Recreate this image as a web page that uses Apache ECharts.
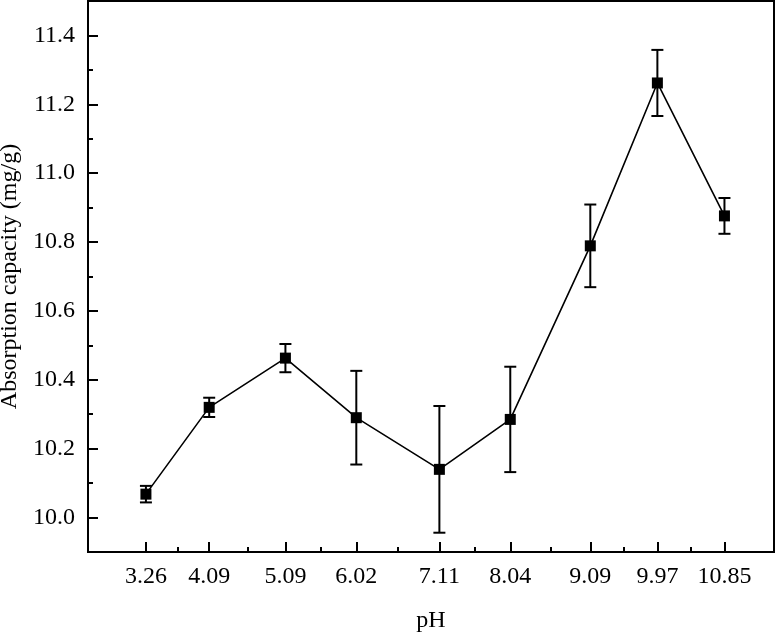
<!DOCTYPE html>
<html>
<head>
<meta charset="utf-8">
<script src="https://cdn.jsdelivr.net/npm/echarts@6/dist/echarts.min.js"></script>
<style>
  html, body { margin: 0; padding: 0; background: #fff; }
  #chart { width: 776px; height: 635px; }
</style>
</head>
<body>
<div id="chart"></div>
<script>
// 数据
const phValues = [3.26, 4.09, 5.09, 6.02, 7.11, 8.04, 9.09, 9.97, 10.85];
const capacity = [10.068, 10.320, 10.463, 10.290, 10.140, 10.285, 10.789, 11.262, 10.876];
const errors = [0.024, 0.028, 0.041, 0.136, 0.184, 0.153, 0.120, 0.096, 0.052];

// 刻度
const yTicks = [10.0, 10.2, 10.4, 10.6, 10.8, 11.0, 11.2, 11.4];
const yMinorTicks = [10.1, 10.3, 10.5, 10.7, 10.9, 11.1, 11.3];
const xMinorTicks = [3.675, 4.59, 5.555, 6.565, 7.575, 8.565, 9.53, 10.41];

const FONT = "'Liberation Serif', 'Times New Roman', serif";

const chart = echarts.init(document.getElementById('chart'));

const points = phValues.map((x, i) => [x, capacity[i]]);
const errData = phValues.map((x, i) => [x, capacity[i] - errors[i], capacity[i] + errors[i]]);

const baseX = {
    type: 'value',
    min: 2.5,
    max: 11.5,
    position: 'bottom',
    splitLine: { show: false },
    axisLine: { lineStyle: { color: '#000', width: 2 } }
};
const baseY = {
    type: 'value',
    min: 9.9,
    max: 11.5,
    position: 'left',
    splitLine: { show: false },
    axisLine: { lineStyle: { color: '#000', width: 2 } }
};

const option = {
    animation: false,
    backgroundColor: '#fff',
    textStyle: { fontFamily: FONT },
    grid: {
        left: 88, top: 1, right: 2, bottom: 83,
        outerBoundsMode: 'none',
        containLabel: false,
        show: true,
        borderColor: '#000',
        borderWidth: 2
    },
    xAxis: [
        Object.assign({}, baseX, {
            name: 'pH',
            nameLocation: 'middle',
            nameGap: 57,
            nameTextStyle: { fontFamily: FONT, fontSize: 24, color: '#000' },
            axisTick: { inside: true, length: 10, lineStyle: { color: '#000', width: 2 }, customValues: phValues },
            axisLabel: {
                customValues: phValues,
                margin: 13,
                fontFamily: FONT, fontSize: 24, color: '#000',
                formatter: v => v.toFixed(2)
            }
        }),
        Object.assign({}, baseX, {
            axisTick: { inside: true, length: 5, lineStyle: { color: '#000', width: 2 }, customValues: xMinorTicks },
            axisLabel: { show: false }
        })
    ],
    yAxis: [
        Object.assign({}, baseY, {
            name: 'Absorption capacity (mg/g)',
            nameLocation: 'middle',
            nameGap: 64,
            nameTextStyle: { fontFamily: FONT, fontSize: 24, color: '#000' },
            axisTick: { inside: true, length: 10, lineStyle: { color: '#000', width: 2 }, customValues: yTicks },
            axisLabel: {
                customValues: yTicks,
                margin: 13,
                fontFamily: FONT, fontSize: 24, color: '#000',
                formatter: v => v.toFixed(1)
            }
        }),
        Object.assign({}, baseY, {
            axisTick: { inside: true, length: 5, lineStyle: { color: '#000', width: 2 }, customValues: yMinorTicks },
            axisLabel: { show: false }
        })
    ],
    series: [
        {
            type: 'custom',
            xAxisIndex: 0,
            yAxisIndex: 0,
            data: errData,
            z: 2,
            renderItem: function (params, api) {
                const x = api.value(0);
                const lo = api.coord([x, api.value(1)]);
                const hi = api.coord([x, api.value(2)]);
                const half = 6;
                const style = { stroke: '#000', lineWidth: 2 };
                return {
                    type: 'group',
                    children: [
                        { type: 'line', shape: { x1: lo[0], y1: lo[1], x2: hi[0], y2: hi[1] }, style: style },
                        { type: 'line', shape: { x1: hi[0] - half, y1: hi[1], x2: hi[0] + half, y2: hi[1] }, style: style },
                        { type: 'line', shape: { x1: lo[0] - half, y1: lo[1], x2: lo[0] + half, y2: lo[1] }, style: style }
                    ]
                };
            }
        },
        {
            type: 'line',
            xAxisIndex: 0,
            yAxisIndex: 0,
            data: points,
            z: 3,
            symbol: 'rect',
            symbolSize: 11,
            itemStyle: { color: '#000' },
            lineStyle: { color: '#000', width: 1.6 }
        }
    ]
};

chart.setOption(option);
</script>
</body>
</html>
